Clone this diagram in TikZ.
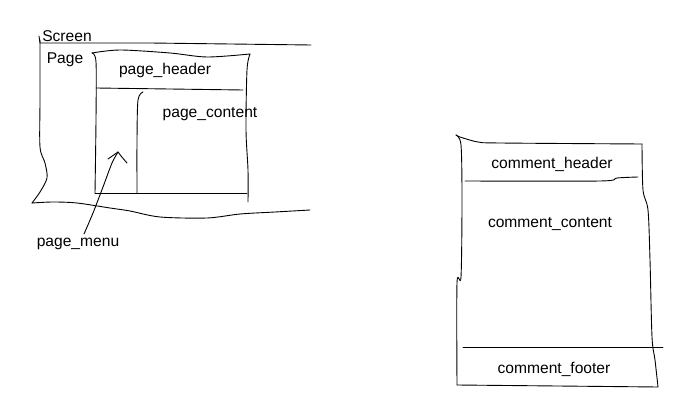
\documentclass[tikz,border=0pt]{standalone}
\usepackage{fontspec}
\setmainfont{Liberation Sans}
\begin{document}
\begin{tikzpicture}[x=1pt,y=-1pt,
  sketch/.style={draw=black,line width=0.9pt,line join=round,line cap=round},
  lbl/.style={inner sep=0pt,font=\fontsize{15.6}{17}\selectfont}]
\useasboundingbox[fill=white] (0,0) rectangle (691,414);
% Screen
\draw[sketch] (39,36) -- (40,43) -- (150,43) -- (311,45);
\draw[sketch] plot[smooth,tension=0.5] coordinates {(40,40) (40,100) (40,147) (45,163) (47,178) (40,192) (32,203)};
\draw[sketch] plot[smooth,tension=0.5] coordinates {(32,203) (53,202) (77,203) (110,208) (130,211) (160,217) (207,218) (240,214) (275,212) (310,210)};
% Page box
\draw[sketch] plot[smooth,tension=0.5] coordinates {(92,53) (120,50) (170,53) (207,57) (250,54)};
\draw[sketch] plot[smooth,tension=0.5] coordinates {(92,53) (96,62) (96,120) (95,193)};
\draw[sketch] (95,193) -- (247,193);
\draw[sketch] plot[smooth,tension=0.5] coordinates {(250,54) (247,70) (246,130) (248,170) (248,202)};
\draw[sketch] (96,88) -- (243,90);
\draw[sketch] plot[smooth,tension=0.5] coordinates {(143,92) (138,100) (137,140) (137,193)};
% Comment box
\draw[sketch] plot[smooth,tension=0.5] coordinates {(456,135) (460,137) (478,142) (500,143) (642,144)};
\draw[sketch] plot[smooth,tension=0.5] coordinates {(456,135) (461,145) (462,200) (461,277) (457,283) (457,385)};
\draw[sketch] (457,385) -- (658,387);
\draw[sketch] plot[smooth,tension=0.5] coordinates {(642,144) (643,190) (648,210) (650,260) (652,337) (655,360) (658,387)};
\draw[sketch] plot[smooth,tension=0.5] coordinates {(465,181) (600,181) (617,178) (638,177)};
\draw[sketch] (463,347) -- (663,347);
% Labels
\node[lbl] (screen) at (67,36) {Screen};
\node[lbl] (page) at (65,59.5) {Page};
\node[lbl] (pageheader) at (165,70.5) {page\_header};
\node[lbl] (pagecontent) at (210,114.5) {page\_content};
\node[lbl] (pagemenu) at (78,243.5) {page\_menu};
\node[lbl] (commentheader) at (552,164.5) {comment\_header};
\node[lbl] (commentcontent) at (550,224.5) {comment\_content};
\node[lbl] (commentfooter) at (554,369.5) {comment\_footer};
% Arrow to menu
\coordinate (menutip) at (118,152);
\draw[sketch] plot[smooth,tension=0.5] coordinates {(84,234) (93,213) (103,187) (112,163) (118,152)};
\draw[sketch] (108,159) -- (menutip) -- (121,156) -- (127,163);
\end{tikzpicture}
\end{document}
